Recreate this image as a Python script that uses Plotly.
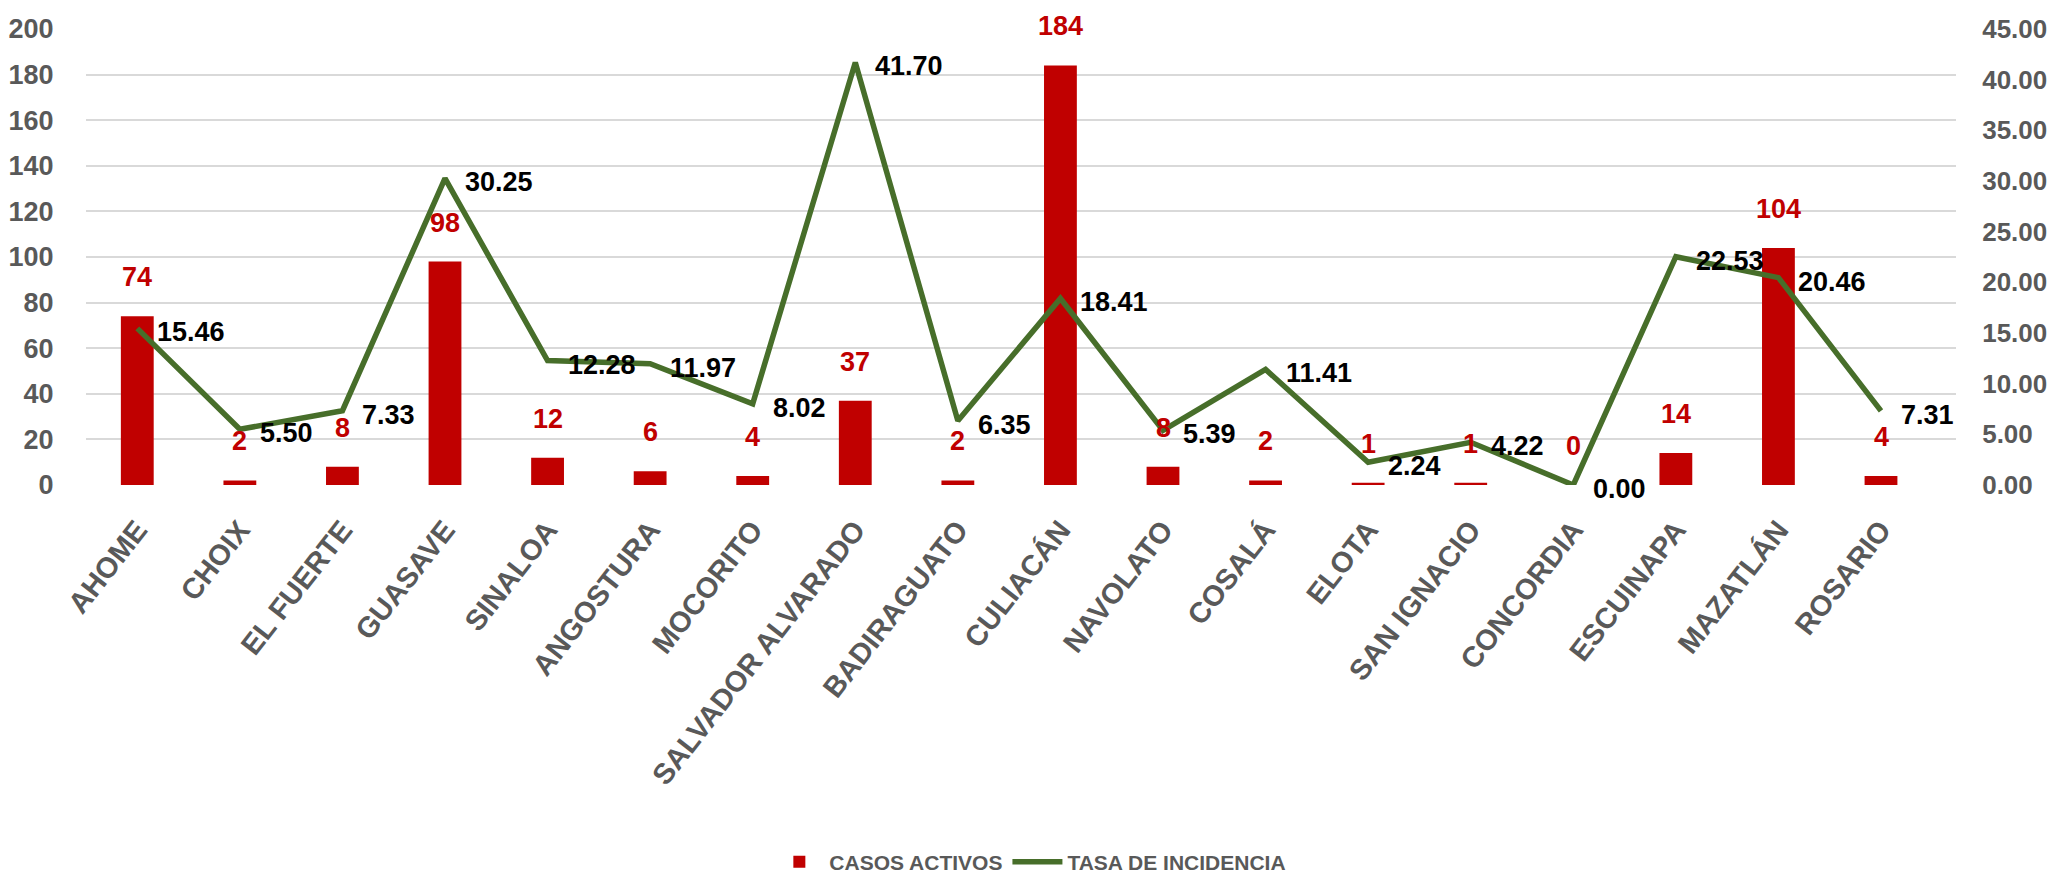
import plotly.graph_objects as go

categories = ["AHOME", "CHOIX", "EL FUERTE", "GUASAVE", "SINALOA", "ANGOSTURA", "MOCORITO",
              "SALVADOR ALVARADO", "BADIRAGUATO", "CULIACÁN", "NAVOLATO", "COSALÁ", "ELOTA",
              "SAN IGNACIO", "CONCORDIA", "ESCUINAPA", "MAZATLÁN", "ROSARIO"]
casos_activos = [74, 2, 8, 98, 12, 6, 4, 37, 2, 184, 8, 2, 1, 1, 0, 14, 104, 4]
tasa_incidencia = [15.46, 5.50, 7.33, 30.25, 12.28, 11.97, 8.02, 41.70, 6.35, 18.41,
                   5.39, 11.41, 2.24, 4.22, 0.00, 22.53, 20.46, 7.31]
left_ticks = list(range(0, 201, 20))
right_ticks = [0, 5, 10, 15, 20, 25, 30, 35, 40, 45]

FONT = "Liberation Sans, Arial, sans-serif"
GREY = "#595959"
RED = "#C00000"
GREEN = "#476E2A"
CLEAR = "rgba(0,0,0,0)"

fig = go.Figure()
fig.add_trace(go.Bar(x=categories, y=casos_activos, name="CASOS ACTIVOS",
                     marker=dict(color=RED, line=dict(width=0)), yaxis="y"))
fig.add_trace(go.Scatter(x=categories, y=tasa_incidencia, name="TASA DE INCIDENCIA",
                         mode="lines", line=dict(color=GREEN, width=5.5), yaxis="y2"))

annotations = []
for c, v in zip(categories, casos_activos):
    annotations.append(dict(x=c, y=v, xref="x", yref="y", text=str(v), showarrow=False,
                            yanchor="middle", yshift=39,
                            font=dict(family=FONT, size=27, color=RED, weight="bold")))
for c, v in zip(categories, tasa_incidencia):
    annotations.append(dict(x=c, y=v, xref="x", yref="y2", text=f"{v:.2f}", showarrow=False,
                            xanchor="left", yanchor="middle", xshift=18, yshift=-4,
                            font=dict(family=FONT, size=27, color="black", weight="bold")))

fig.update_layout(
    width=2051, height=878, autosize=False,
    margin=dict(l=86, r=95, t=29, b=393, autoexpand=False),
    paper_bgcolor="white", plot_bgcolor="white",
    bargap=0.68,
    showlegend=True,
    legend=dict(orientation="h", x=0.505, xanchor="center", y=-0.827, yanchor="middle",
                font=dict(family=FONT, size=21, color=GREY, weight="bold"),
                itemwidth=50, bgcolor=CLEAR),
    xaxis=dict(tickangle=-52, showgrid=False, showline=False, zeroline=False,
               automargin=False,
               tickfont=dict(family=FONT, size=29, color=GREY, weight="bold"),
               ticklabelstandoff=21),
    yaxis=dict(range=[0, 200], tickvals=left_ticks, showgrid=True, gridcolor="#D9D9D9",
               gridwidth=2, zeroline=False, showline=False, automargin=False,
               ticks="outside", ticklen=26, tickcolor=CLEAR,
               tickfont=dict(family=FONT, size=27, color=GREY, weight="bold")),
    yaxis2=dict(range=[0, 45], tickvals=right_ticks, tickformat=".2f", overlaying="y",
                side="right", showgrid=False, zeroline=False, showline=False,
                automargin=False,
                ticks="outside", ticklen=20, tickcolor=CLEAR,
                tickfont=dict(family=FONT, size=26, color=GREY, weight="bold")),
    annotations=annotations,
)

fig.write_html("out.html", config={"displayModeBar": False},
               post_script="document.body.style.margin='0';")
